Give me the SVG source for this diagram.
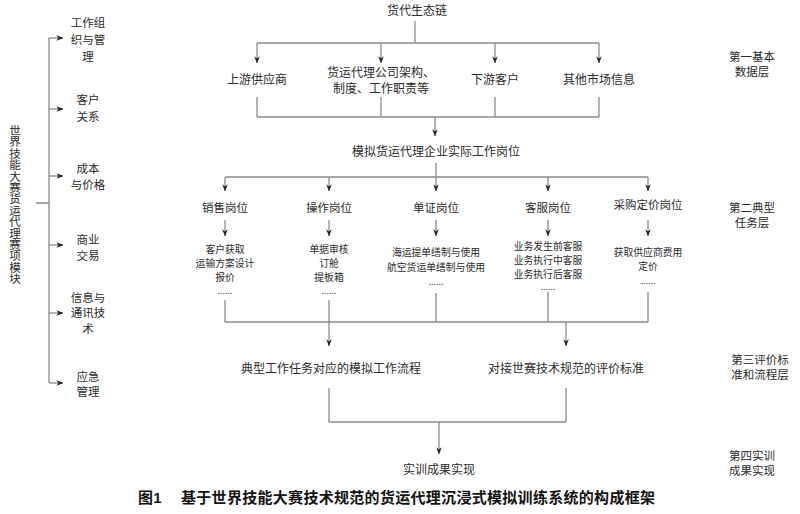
<svg xmlns="http://www.w3.org/2000/svg" width="800" height="514" viewBox="0 0 800 514">
<defs>
<marker id="ah" viewBox="0 0 10 10" refX="9.5" refY="5" markerWidth="7" markerHeight="7" orient="auto" markerUnits="userSpaceOnUse"><path d="M0,1 L10,5 L0,9 L3,5 z" fill="#222"/></marker>
<style>
text{font-family:"Liberation Serif","Noto Sans CJK SC",serif;fill:#2a2a2a;text-anchor:middle;dominant-baseline:central}
.m{font-size:12px}
.t{font-size:11.5px}
.s{font-size:9.8px}
.l{font-size:11.5px}
.cap{font-family:"Liberation Sans","Noto Sans CJK SC",sans-serif;font-weight:bold;font-size:15px;fill:#111;text-anchor:start;letter-spacing:0.3px}
.ln{fill:none;stroke:#8a8a8a;stroke-width:1.3}
.ar{fill:none;stroke:#8a8a8a;stroke-width:1.3;marker-end:url(#ah)}
</style>
</defs>
<rect width="800" height="514" fill="#fff"/>
<g id="connectors">
<path class="ln" d="M415,21 V43 M257,43 H599"/>
<path class="ar" d="M257,43 V63"/><path class="ar" d="M381,43 V63"/><path class="ar" d="M495,43 V63"/><path class="ar" d="M599,43 V63"/>
<path class="ln" d="M257,97 V117 M381,97 V117 M495,97 V117 M599,97 V117 M257,117 H599"/>
<path class="ar" d="M435,117 V136"/>
<path class="ln" d="M436,163 V177 M225,177 H648"/>
<path class="ar" d="M225,177 V191"/><path class="ar" d="M329,177 V191"/><path class="ar" d="M436,177 V191"/><path class="ar" d="M548,177 V191"/><path class="ar" d="M648,177 V191"/>
<path class="ar" d="M225,220 V236"/><path class="ar" d="M329,220 V236"/><path class="ar" d="M436,220 V236"/><path class="ar" d="M548,220 V236"/><path class="ar" d="M648,220 V236"/>
<path class="ln" d="M225,300 V322 M436,293 V322 M548,292 V322 M648,292 V322 M225,322 H648"/>
<path class="ar" d="M329,300 V346"/><path class="ar" d="M566,322 V346"/>
<path class="ln" d="M329,388 V422 M566,388 V422 M329,422 H566"/>
<path class="ar" d="M439,422 V454"/>
<path class="ln" d="M49,38 V383 M36,203 H49"/>
<path class="ar" d="M49,38 H63"/><path class="ar" d="M49,109 H63"/><path class="ar" d="M49,176 H63"/><path class="ar" d="M49,245 H63"/><path class="ar" d="M49,313 H63"/><path class="ar" d="M49,383 H63"/>
</g>
<g id="root"><text class="m" x="417" y="11">货代生态链</text></g>
<g id="n-upstream"><text class="m" x="257" y="80">上游供应商</text></g>
<g id="n-company"><text class="m" x="381" y="73">货运代理公司架构、</text><text class="m" x="381" y="89">制度、工作职责等</text></g>
<g id="n-downstream"><text class="m" x="495" y="80">下游客户</text></g>
<g id="n-market"><text class="m" x="599" y="80">其他市场信息</text></g>
<g id="n-sim"><text class="m" x="436" y="152">模拟货运代理企业实际工作岗位</text></g>
<g id="n-sales"><text class="t" x="225" y="208">销售岗位</text>
<text class="s" x="225" y="249">客户获取</text><text class="s" x="225" y="263">运输方案设计</text><text class="s" x="225" y="277">报价</text><text class="s" x="225" y="290">......</text></g>
<g id="n-ops"><text class="t" x="329" y="208">操作岗位</text>
<text class="s" x="329" y="249">单据审核</text><text class="s" x="329" y="263">订舱</text><text class="s" x="329" y="277">提板箱</text><text class="s" x="329" y="290">......</text></g>
<g id="n-docs"><text class="t" x="436" y="208">单证岗位</text>
<text class="s" x="436" y="252">海运提单缮制与使用</text><text class="s" x="436" y="267">航空货运单缮制与使用</text><text class="s" x="436" y="281">......</text></g>
<g id="n-cs"><text class="t" x="548" y="208">客服岗位</text>
<text class="s" x="548" y="246">业务发生前客服</text><text class="s" x="548" y="260">业务执行中客服</text><text class="s" x="548" y="274">业务执行后客服</text><text class="s" x="548" y="286">......</text></g>
<g id="n-purchase"><text class="t" x="648" y="205">采购定价岗位</text>
<text class="s" x="648" y="252">获取供应商费用</text><text class="s" x="648" y="266">定价</text><text class="s" x="648" y="280">......</text></g>
<g id="n-flow"><text class="m" x="331" y="369">典型工作任务对应的模拟工作流程</text></g>
<g id="n-eval"><text class="m" x="566" y="369">对接世赛技术规范的评价标准</text></g>
<g id="n-result"><text class="m" x="439" y="470">实训成果实现</text></g>
<g id="layer1"><text class="l" x="752" y="57">第一基本</text><text class="l" x="752" y="72">数据层</text></g>
<g id="layer2"><text class="l" x="752" y="208">第二典型</text><text class="l" x="752" y="223">任务层</text></g>
<g id="layer3"><text class="l" x="760" y="360">第三评价标</text><text class="l" x="760" y="375">准和流程层</text></g>
<g id="layer4"><text class="l" x="752" y="456">第四实训</text><text class="l" x="752" y="471">成果实现</text></g>
<g id="module-root"><text class="l" x="15">
<tspan x="15" y="131">世</tspan><tspan x="15" y="142.4">界</tspan><tspan x="15" y="153.8">技</tspan><tspan x="15" y="165.2">能</tspan><tspan x="15" y="176.6">大</tspan><tspan x="15" y="188">赛</tspan><tspan x="15" y="199.4">货</tspan><tspan x="15" y="210.8">运</tspan><tspan x="15" y="222.2">代</tspan><tspan x="15" y="233.6">理</tspan><tspan x="15" y="245">赛</tspan><tspan x="15" y="256.4">项</tspan><tspan x="15" y="267.8">模</tspan><tspan x="15" y="279.2">块</tspan></text></g>
<g id="m1"><text class="l" x="88" y="23">工作组</text><text class="l" x="88" y="40">织与管</text><text class="l" x="88" y="57">理</text></g>
<g id="m2"><text class="l" x="88" y="100">客户</text><text class="l" x="88" y="117">关系</text></g>
<g id="m3"><text class="l" x="88" y="169">成本</text><text class="l" x="88" y="185">与价格</text></g>
<g id="m4"><text class="l" x="88" y="240">商业</text><text class="l" x="88" y="256">交易</text></g>
<g id="m5"><text class="l" x="88" y="298">信息与</text><text class="l" x="88" y="313">通讯技</text><text class="l" x="88" y="329">术</text></g>
<g id="m6"><text class="l" x="88" y="377">应急</text><text class="l" x="88" y="392">管理</text></g>
<g id="caption"><text class="cap" x="138" y="497">图1<tspan x="181">基于世界技能大赛技术规范的货运代理沉浸式模拟训练系统的构成框架</tspan></text></g>
</svg>
